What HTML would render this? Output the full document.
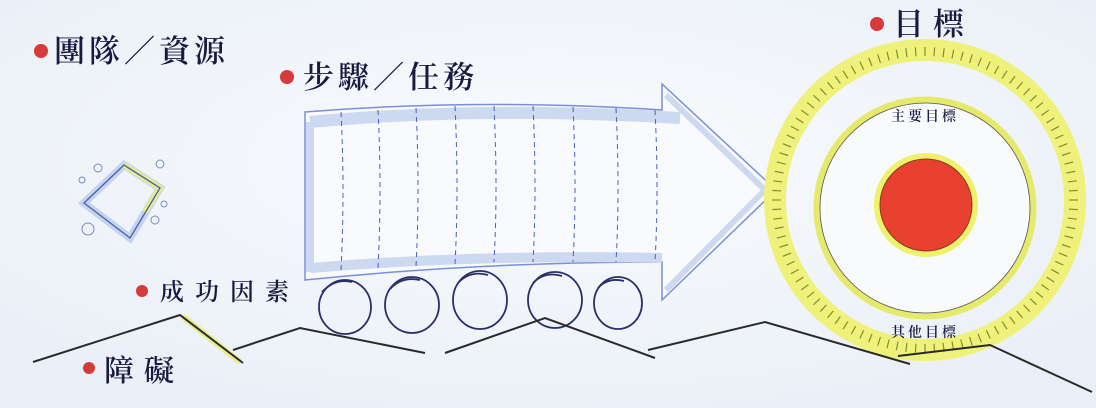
<!DOCTYPE html>
<html><head><meta charset="utf-8"><style>
html,body{margin:0;padding:0;width:1096px;height:408px;overflow:hidden;background:#f1f5fa}
svg{display:block}
text{font-family:"Liberation Serif","Noto Serif CJK TC","Noto Serif CJK SC",serif;fill:#1a1a40;font-weight:600}
</style></head><body>
<svg width="1096" height="408" viewBox="0 0 1096 408">
<defs>
<radialGradient id="bg" cx="50%" cy="40%" r="70%"><stop offset="0" stop-color="#f9fbfd"/><stop offset="1" stop-color="#e9eff7"/></radialGradient>
</defs>
<rect width="1096" height="408" fill="url(#bg)"/>

<g>
<circle cx="41" cy="51" r="7" fill="#d63a3a"/>
<text x="54" y="62" font-size="31" letter-spacing="4">團隊／資源</text></g>
<g>
<circle cx="287" cy="77" r="7" fill="#d63a3a"/>
<text x="303" y="88" font-size="31" letter-spacing="4">步驟／任務</text></g>
<g>
<circle cx="877" cy="24" r="7" fill="#d63a3a"/>
<text x="893" y="35" font-size="31" letter-spacing="9">目標</text></g>
<g>
<circle cx="142" cy="291" r="6" fill="#d63a3a"/>
<text x="160" y="300" font-size="24" letter-spacing="11">成功因素</text></g>
<g>
<circle cx="89" cy="368" r="6" fill="#d63a3a"/>
<text x="104" y="381" font-size="30" letter-spacing="10">障礙</text></g>

<g>
<polygon points="84,203 124,165 160,188 130,238" fill="none" stroke="#c5d3ec" stroke-width="8"/>
<polyline points="124,165 160,188 145,212" fill="none" stroke="#e8ec8c" stroke-width="6"/>
<polygon points="84,203 124,165 160,188 130,238" fill="none" stroke="#4a5fb0" stroke-width="1.3"/>
<circle cx="98" cy="168" r="4" fill="none" stroke="#7a8ac0"/>
<circle cx="82" cy="180" r="3" fill="none" stroke="#7a8ac0"/>
<circle cx="160" cy="164" r="4" fill="none" stroke="#7a8ac0"/>
<circle cx="164" cy="204" r="3" fill="none" stroke="#7a8ac0"/>
<circle cx="155" cy="220" r="4" fill="none" stroke="#7a8ac0"/>
<circle cx="88" cy="229" r="6" fill="none" stroke="#7a8ac0"/>
</g>

<g>
<path d="M305,112 Q480,98 662,110 L662,84 L776,190 L662,300 L662,262 Q480,262 305,280 Z" fill="#f8fafd" stroke="#7b8fd8" stroke-width="1.5"/>
<path d="M310,122 Q480,106 680,118" fill="none" stroke="#cdd9f0" stroke-width="12"/>
<path d="M310,268 Q480,254 662,258" fill="none" stroke="#cdd9f0" stroke-width="10"/>
<path d="M310,122 L310,272" stroke="#cdd9f0" stroke-width="8"/>
<path d="M666,95 L765,190 L666,290" fill="none" stroke="#cdd9f0" stroke-width="6"/>
<g stroke="#4a5fc0" stroke-width="1" stroke-dasharray="5,4" fill="none">
<path d="M341,112 Q345,190 341,270"/>
<path d="M378,110 Q382,190 378,268"/>
<path d="M416,108 Q420,190 416,266"/>
<path d="M455,106 Q459,190 455,264"/>
<path d="M494,106 Q498,190 494,262"/>
<path d="M533,106 Q537,190 533,262"/>
<path d="M573,107 Q577,190 573,262"/>
<path d="M616,108 Q620,190 616,262"/>
<path d="M655,110 Q659,190 655,262"/>
</g></g>

<g fill="none" stroke="#2a2f6a" stroke-width="1.8">
<ellipse cx="345" cy="307" rx="26" ry="27"/><path d="M322,292 Q335,278 352,282"/>
<ellipse cx="412" cy="305" rx="27" ry="28"/><path d="M390,289 Q402,276 420,280"/>
<ellipse cx="480" cy="300" rx="27" ry="29"/><path d="M458,283 Q470,270 488,275"/>
<ellipse cx="555" cy="300" rx="27" ry="28"/><path d="M533,283 Q545,271 562,276"/>
<ellipse cx="618" cy="303" rx="24" ry="26"/><path d="M598,288 Q608,277 624,281"/>
</g>

<g>
<circle cx="925" cy="200" r="150" fill="none" stroke="#eef27a" stroke-width="22"/>
<g id="ticks" stroke="#8a8a30" stroke-width="1.2"></g>
<circle cx="925" cy="208" r="108" fill="#f9fafc" stroke="#e6ea6a" stroke-width="7"/>
<circle cx="925" cy="208" r="105" fill="none" stroke="#556" stroke-width="0.8"/>
<circle cx="926" cy="205" r="52" fill="#eef26a"/>
<circle cx="926" cy="205" r="46" fill="#e8412f" stroke="#8a3a20" stroke-width="1"/>
<text x="925" y="121" font-size="14" text-anchor="middle" letter-spacing="3">主要目標</text>
<text x="925" y="337" font-size="14" text-anchor="middle" letter-spacing="3">其他目標</text>
</g>

<g fill="none" stroke="#2a2a2a" stroke-width="2">
<polyline points="182,316 240,362" stroke="#e8ec8c" stroke-width="6"/>
<polyline points="33,362 180,315 243,363"/>
<polyline points="233,350 300,328 425,353"/>
<polyline points="445,353 545,318 655,358"/>
<polyline points="648,350 765,322 910,364"/>
<polyline points="898,356 990,345 1092,392"/>
</g>
</svg>
<script>
const g=document.getElementById('ticks');
for(let i=0;i<100;i++){const a=i/100*Math.PI*2;const c=Math.cos(a),s=Math.sin(a);
const l=document.createElementNS('http://www.w3.org/2000/svg','line');
l.setAttribute('x1',925+c*144);l.setAttribute('y1',200+s*144);
l.setAttribute('x2',925+c*153);l.setAttribute('y2',200+s*153);


g.appendChild(l);}
</script>
</body></html>
